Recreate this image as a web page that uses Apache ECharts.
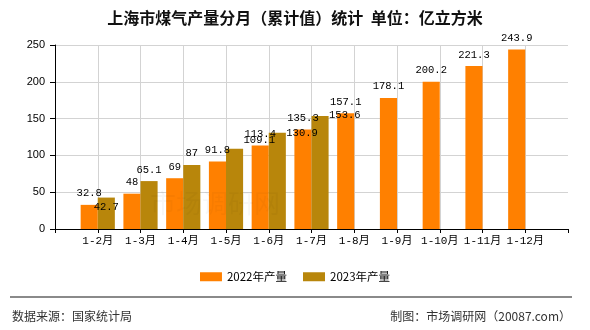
<!DOCTYPE html>
<html><head><meta charset="utf-8">
<script src="https://cdn.jsdelivr.net/npm/echarts@6/dist/echarts.min.js"></script>
<style>html,body{margin:0;padding:0;background:#fff}#c{width:590px;height:330px}</style>
</head><body><div id="c"></div>
<script>
// ---- data ----
const categories = ['1-2月','1-3月','1-4月','1-5月','1-6月','1-7月','1-8月','1-9月','1-10月','1-11月','1-12月'];
const output2022 = [32.8,48,69,91.8,113.4,135.3,157.1,178.1,200.2,221.3,243.9];
const output2023 = [42.7,65.1,87,109.1,130.9,153.6];
const seriesNames = ['2022年产量','2023年产量'];
const yMin = 0, yMax = 250, yStep = 50;
const titleText = '上海市煤气产量分月（累计值）统计  单位：亿立方米';
const sourceText = '数据来源：国家统计局';
const makerText = '制图：市场调研网（20087.com）';

// ---- label placement tweaks (style only) ----
const label2023Tweaks = [{dx:0,dy:21},null,null,{dx:9,dy:3,left:true},{dx:9,dy:12,left:true},{dx:9,dy:11,left:true}];

const monoFont = '"Liberation Mono","Noto Sans CJK SC",monospace';
const cjkFont = '"Noto Sans CJK SC",sans-serif';

// category axis padded with blank ends (boundaryGap false layout)
const axisCats = [''].concat(categories, ['']);
const s2022 = [null].concat(output2022);
while (s2022.length < axisCats.length) s2022.push(null);
const s2023 = [null].concat(output2023.map((v,i)=>{
  const t = label2023Tweaks[i];
  if (!t) return v;
  const lab = {offset:[t.dx,t.dy]};
  if (t.left) lab.align = 'left';
  return {value:v,label:lab};
}));
while (s2023.length < axisCats.length) s2023.push(null);

const labelStyle = {show:true,position:'top',distance:6,color:'#000',fontSize:10.5,fontFamily:monoFont};

const chart = echarts.init(document.getElementById('c'),null,{renderer:'canvas'});
chart.setOption({
  animation:false,
  backgroundColor:'#fff',
  title:{text:titleText,left:'center',top:5,textStyle:{fontSize:16,fontWeight:'bold',color:'#111',fontFamily:cjkFont}},
  legend:{data:seriesNames,top:266,left:'center',icon:'rect',itemWidth:22,itemHeight:9,itemGap:16,
    textStyle:{fontSize:11.5,color:'#000',fontFamily:cjkFont}},
  grid:{left:55,right:22,top:45,bottom:101,containLabel:false},
  xAxis:{type:'category',data:axisCats,boundaryGap:false,
    axisLine:{lineStyle:{color:'#000',width:1}},
    axisTick:{show:true,length:4,lineStyle:{color:'#000'},alignWithLabel:true},
    axisLabel:{color:'#000',fontSize:11,fontFamily:monoFont,margin:7,interval:0},
    splitLine:{show:true,showMinLine:false,showMaxLine:false,lineStyle:{color:'#d3d3d3',width:1}}},
  yAxis:{type:'value',min:yMin,max:yMax,interval:yStep,
    axisLine:{show:true,lineStyle:{color:'#000'}},
    axisTick:{show:true,length:5,lineStyle:{color:'#000'}},
    axisLabel:{color:'#000',fontSize:11,fontFamily:'"Liberation Sans",sans-serif',margin:10},
    splitLine:{show:true,lineStyle:{color:'#d3d3d3',width:1}}},
  series:[
    {name:seriesNames[0],type:'bar',data:s2022,barGap:'0%',barCategoryGap:'20%',
     itemStyle:{color:'#FF8000'},label:labelStyle},
    {name:seriesNames[1],type:'bar',data:s2023,barGap:'0%',barCategoryGap:'20%',
     itemStyle:{color:'#B8860B'},label:labelStyle}
  ],
  graphic:[
    {type:'text',left:150,top:190,z:100,silent:true,style:{text:'市场调研网',fontSize:26,fontFamily:cjkFont,fill:'rgba(0,0,0,0.03)'}},
    {type:'rect',shape:{x:10,y:296,width:562,height:2},style:{fill:'#8a8a8a'},silent:true},
    {type:'text',left:12,top:310,style:{text:sourceText,fontSize:12,fontFamily:cjkFont,fill:'#333'}},
    {type:'text',right:19,top:310,style:{text:makerText,fontSize:12,fontFamily:cjkFont,fill:'#333'}}
  ]
});
</script></body></html>
